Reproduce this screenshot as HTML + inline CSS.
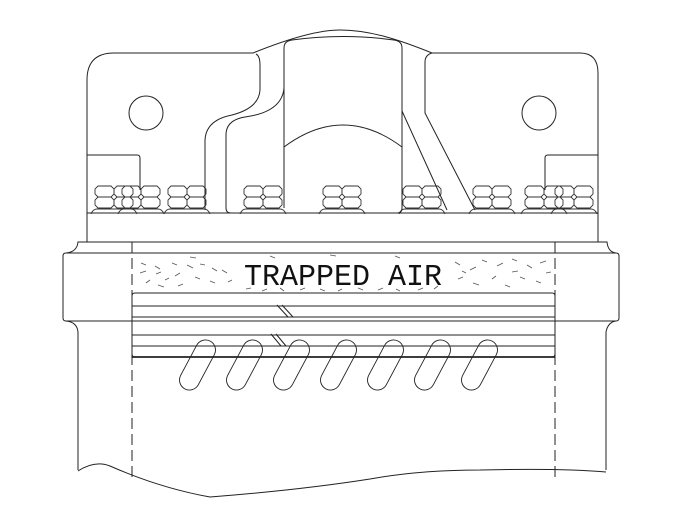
<!DOCTYPE html>
<html><head><meta charset="utf-8"><style>html,body{margin:0;padding:0;background:#fff}svg{display:block}</style></head>
<body>
<svg width="685" height="529" viewBox="0 0 685 529" xmlns="http://www.w3.org/2000/svg">
<defs>
<g id="nut" fill="none" stroke="#333" stroke-width="0.9">
<polygon points="3,0 16,0 19,3 19,8 16,11 3,11 0,8 0,3"/>
<polygon points="22,0 35,0 38,3 38,8 35,11 22,11 19,8 19,3"/>
<polygon points="3,11 16,11 19,14 19,19 16,22 3,22 0,19 0,14"/>
<polygon points="22,11 35,11 38,14 38,19 35,22 22,22 19,19 19,14"/>
<path d="M-4,28 Q-2,23 2,23 L36,23 Q40,23 42,28"/>
</g>
</defs>
<g fill="none" stroke="#222" stroke-width="1">
<use href="#nut" x="95" y="186"/><use href="#nut" x="122" y="186"/>
<use href="#nut" x="168" y="186"/><use href="#nut" x="244" y="186"/>
<use href="#nut" x="323" y="186"/><use href="#nut" x="403" y="186"/>
<use href="#nut" x="473" y="186"/><use href="#nut" x="525" y="186"/>
<use href="#nut" x="555" y="186"/>
<path d="M87,242 L87,80 Q87,53 114,53 L253,53 C290,38 320,30 340,30 C370,30 400,40 432,53 L580,53 Q598,53 598,73 L598,242"/>
<path d="M87,213 L598,213"/>
<path d="M284,208 L284,48 Q284,41 292,40 Q343,33 394,40 Q402,41 402,48 L402,208 Q402,213 397,213"/>
<path d="M284,147 Q343,103 402,147"/>
<path d="M256,54 Q260,56 260,65 L260,90 Q259,108 232,115 Q206,120 205,140 L205,210"/>
<path d="M284,88 Q282,112 245,117 Q226,120 226,135 L226,208 Q226,213 231,213"/>
<path d="M402,111 L447,210"/>
<path d="M432,53 Q425,55 425,62 L425,113 L475,210"/>
<path d="M87,155 L137,155 Q140,155 140,158 L140,190"/>
<path d="M598,155 L548,155 Q545,155 545,158 L545,190"/>
<circle cx="146" cy="113" r="17"/><circle cx="539" cy="113" r="17"/>
<path d="M78,242 L607,242"/>
<path d="M87,242 L78,242 Q77,252 66,253 Q63,253 63,256 L63,318 Q63,321 66,321 Q77,322 78,332 L78,470"/>
<path d="M598,242 L607,242 Q608,252 616,253 Q619,253 619,256 L619,318 Q619,321 616,321 Q608,322 606,332 L606,470"/>
<path d="M66,253 L616,253"/><path d="M66,321 L616,321"/>
<path d="M78,471 Q95,460 110,466 Q160,488 210,497 Q300,490 370,479 Q420,470 480,470 Q560,468 606,472"/>
<path d="M132,242 L132,480 M555,242 L555,480" stroke-dasharray="11,5"/>
<path d="M135,293 L552,293 Q555,293 555,296 L555,354 Q555,357 552,357 L135,357 Q132,357 132,354 L132,296 Q132,293 135,293"/>
<path d="M132,306 H555 M132,317 H555 M132,335 H555 M132,346 H555"/>
<path d="M132,357 H555" stroke-width="1.8"/>
<path d="M277,305 L288,317 M282,305 L293,317 M271,334 L281,346 M276,334 L286,346"/>
<g stroke-width="0.9">
<rect x="-10" y="-27" width="20" height="54" rx="10" transform="translate(197.5,365) rotate(28)"/>
<rect x="-10" y="-27" width="20" height="54" rx="10" transform="translate(244.5,365) rotate(28)"/>
<rect x="-10" y="-27" width="20" height="54" rx="10" transform="translate(291.5,365) rotate(28)"/>
<rect x="-10" y="-27" width="20" height="54" rx="10" transform="translate(338.5,365) rotate(28)"/>
<rect x="-10" y="-27" width="20" height="54" rx="10" transform="translate(385.5,365) rotate(28)"/>
<rect x="-10" y="-27" width="20" height="54" rx="10" transform="translate(432.5,365) rotate(28)"/>
<rect x="-10" y="-27" width="20" height="54" rx="10" transform="translate(479.5,365) rotate(28)"/>
</g>
<g stroke-width="0.8" stroke="#555">
<path d="M141,263 l5,2 M155,266 l5,3 M172,263 l5,2 M187,265 l6,3 M200,264 l5,1 M212,268 l5,3 M140,273 l6,-2 M156,274 l5,-2 M175,276 l5,-3 M195,277 l5,2 M146,283 l4,-3 M158,285 l6,2 M178,286 l5,-2 M210,281 l5,2 M222,270 l5,3 M228,282 l4,-2 M190,257 l6,1 M165,280 l4,-2"/>
<path d="M455,262 l5,3 M470,270 l6,-3 M482,260 l5,2 M497,266 l6,-3 M512,259 l5,2 M527,265 l5,3 M540,263 l6,-2 M458,279 l5,-2 M473,283 l6,2 M492,279 l4,-3 M505,285 l5,2 M520,277 l5,2 M536,281 l5,2 M546,273 l5,-1 M462,271 l4,2 M512,272 l6,-1"/>
<path d="M246,289 l5,-1 M262,291 l5,-2 M280,288 l4,3 M300,290 l5,-2 M320,289 l5,2 M338,291 l4,-2 M358,288 l5,2 M378,290 l5,-2 M396,289 l4,2 M418,290 l5,-2 M434,289 l4,-3 M270,256 l5,2 M330,255 l6,1 M395,256 l5,2"/>
</g>
</g>
<text x="244" y="285" font-family="Liberation Mono, monospace" font-size="31" textLength="198" lengthAdjust="spacingAndGlyphs" fill="#111">TRAPPED AIR</text>
</svg>
</body></html>
